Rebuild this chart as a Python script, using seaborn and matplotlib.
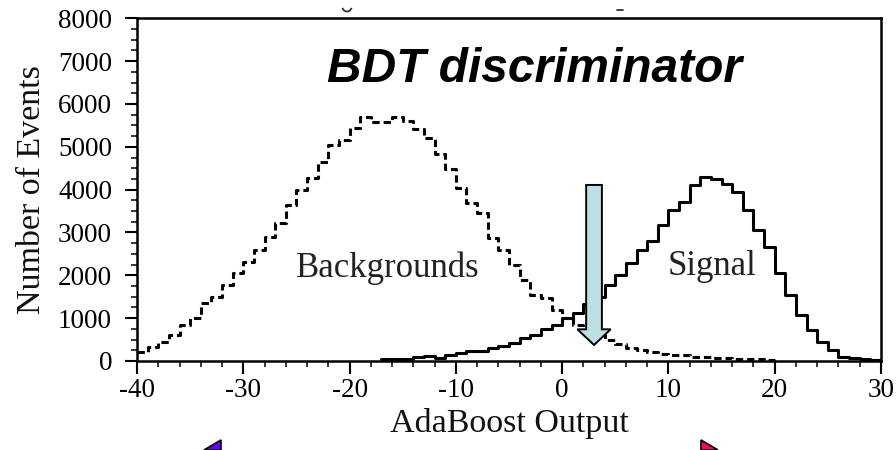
import numpy as np
import pandas as pd
import matplotlib
matplotlib.use("Agg")
import matplotlib.pyplot as plt
from matplotlib.patches import FancyArrow, Polygon, Arc
from matplotlib.lines import Line2D
import seaborn as sns

# ---------------- data ----------------
bg_left = -40  # first bin edge of backgrounds histogram (bin width 1)
bg_counts = [217, 334, 450, 606, 840, 995, 1345, 1500, 1772, 2045,
             2317, 2589, 2900, 3226, 3638, 3988, 4275, 4648, 5037, 5154,
             5450, 5700, 5580, 5580, 5700, 5600, 5426, 5216, 4843, 4493,
             4027, 3693, 3444, 2861, 2589, 2239, 1889, 1539, 1460, 1200,
             1010, 840, 720, 600, 490, 390, 300, 255, 205, 170,
             150, 130, 100, 85, 65, 60, 50, 40, 40, 35]
sig_left = -17  # first bin edge of signal histogram
sig_counts = [40, 40, 50, 100, 120, 70, 140, 180, 230, 235,
              295, 360, 430, 530, 610, 750, 850, 995, 1110, 1340,
              1500, 1770, 2010, 2290, 2590, 2800, 3170, 3520, 3720, 4100,
              4290, 4260, 4140, 3950, 3520, 3060, 2670, 2045, 1540, 1070,
              720, 450, 260, 100, 60, 40, 20]
cut_value = 3.0          # BDT cut indicated by the arrow
arrow_top = 4110
arrow_tip = 374

x_ticks = [-40, -30, -20, -10, 0, 10, 20, 30]
x_tick_labels = ["-40", "-30", "-20", "-10", "0", "10", "20", "30"]
y_ticks = [0, 1000, 2000, 3000, 4000, 5000, 6000, 7000, 8000]
y_tick_labels = ["0", "1000", "2000", "3000", "4000", "5000", "6000", "7000", "8000"]

title_text = "BDT discriminator"
bg_label = "Backgrounds"
sig_label = "Signal"
x_label = "AdaBoost Output"
y_label = "Number of Events"

# ---------------- style ----------------
sns.set_style("ticks")
plt.rcParams['font.family'] = ['Liberation Serif', 'DejaVu Serif']

fig = plt.figure(figsize=(8.96, 4.5), dpi=100)
ax = fig.add_axes([137/896, 1 - 361/450, (881-137)/896, (361-18.3)/450])

df_bg = pd.DataFrame({"output": bg_left + 0.5 + np.arange(len(bg_counts)),
                      "events": bg_counts})
df_sig = pd.DataFrame({"output": sig_left + 0.5 + np.arange(len(sig_counts)),
                       "events": sig_counts})

sns.histplot(data=df_bg, x="output", weights="events", binwidth=1,
             binrange=(bg_left, bg_left + len(bg_counts)),
             element="step", fill=False, color="black",
             linestyle=(0, (2.4, 1.3)), linewidth=2.2, ax=ax)
sns.histplot(data=df_sig, x="output", weights="events", binwidth=1,
             binrange=(sig_left, sig_left + len(sig_counts)),
             element="step", fill=False, color="black",
             linestyle="-", linewidth=2.2, ax=ax)

# cut arrow
arr = FancyArrow(cut_value, arrow_top, 0, arrow_tip - arrow_top,
                 width=1.48, head_width=3.13, head_length=366,
                 length_includes_head=True, facecolor="#bde0e4",
                 edgecolor="black", linewidth=1.4, zorder=5)
ax.add_patch(arr)

ax.set_xlim(-40, 30)
ax.set_ylim(0, 8000)
ax.set_xticks(x_ticks)
ax.set_xticklabels(x_tick_labels)
ax.set_yticks(y_ticks)
ax.set_yticklabels(y_tick_labels)
ax.set_xticks(np.arange(-40, 31, 2), minor=True)
ax.set_yticks(np.arange(0, 8001, 250), minor=True)
ax.tick_params(axis="both", which="major", length=9, width=1.5,
               labelsize=19.5, colors="black")
ax.tick_params(axis="both", which="minor", length=4.5, width=1.3)
ax.tick_params(axis="x", which="major", pad=3)
ax.tick_params(axis="y", which="major", pad=9)
for s in ax.spines.values():
    s.set_visible(True)
    s.set_linewidth(1.8)
    s.set_color("black")

ax.set_xlabel(x_label, fontsize=24.5, labelpad=4, color="#111111")
ax.set_ylabel(y_label, fontsize=24.5, labelpad=8, color="#111111")

ax.text(0.534, 0.813, title_text, transform=ax.transAxes, ha="center",
        va="baseline", fontsize=34.5, fontweight="bold", fontstyle="italic",
        family=["Liberation Sans", "DejaVu Sans"], color="black")
ax.text(0.3374, 0.2449, bg_label, transform=ax.transAxes, ha="center",
        va="baseline", fontsize=25, color="#222222")
ax.text(0.773, 0.2507, sig_label, transform=ax.transAxes, ha="center",
        va="baseline", fontsize=25, color="#222222")

# slide navigation triangles (partially visible at bottom edge)
W, H = 896, 450
tri_l = Polygon([(221/W, 1-440/H), (221/W, 0), (204/W, 0)], closed=True,
                transform=fig.transFigure, facecolor="#6a00ff",
                edgecolor="black", linewidth=1.2)
tri_r = Polygon([(701/W, 1-440/H), (701/W, 0), (718/W, 0)], closed=True,
                transform=fig.transFigure, facecolor="#ff0066",
                edgecolor="black", linewidth=1.2)
fig.add_artist(tri_l)
fig.add_artist(tri_r)

# remnants of cropped text above the frame
fig.add_artist(Arc((347/W, 1-7/H), 9/W, 9/H, theta1=200, theta2=340,
                   transform=fig.transFigure, color="#333333", linewidth=1.3))
fig.add_artist(Line2D([617/W, 623/W], [1-10/H, 1-10/H],
                      transform=fig.transFigure, color="#333333", linewidth=1.3))

fig.savefig("out.png", dpi=100, facecolor="white")
